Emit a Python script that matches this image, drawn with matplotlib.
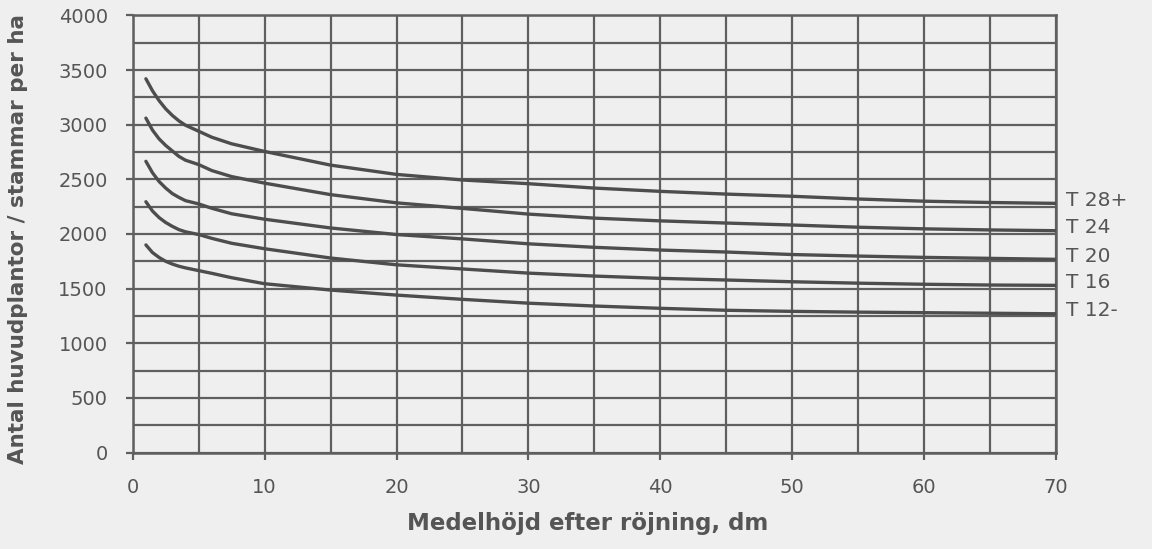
import numpy as np
import matplotlib.pyplot as plt
from matplotlib.ticker import MultipleLocator

# medelhöjd efter röjning, dm
hojd = [1, 1.5, 2, 2.5, 3, 3.5, 4, 5, 6, 7.5, 10, 15, 20, 25, 30, 35, 40, 45, 50, 55, 60, 65, 70]

# antal huvudplantor per ha för varje ståndortsindex
t28 = [3420, 3310, 3220, 3145, 3085, 3035, 2995, 2940, 2885, 2825, 2755, 2630, 2545, 2494, 2460,
       2420, 2390, 2365, 2345, 2320, 2300, 2288, 2280]
t24 = [3060, 2950, 2870, 2810, 2760, 2710, 2675, 2635, 2580, 2525, 2465, 2360, 2285, 2234, 2182,
       2145, 2120, 2100, 2082, 2062, 2047, 2037, 2030]
t20 = [2665, 2560, 2480, 2420, 2370, 2335, 2305, 2275, 2235, 2185, 2135, 2055, 1995, 1955, 1910,
       1878, 1853, 1835, 1812, 1798, 1786, 1777, 1768]
t16 = [2295, 2210, 2150, 2105, 2070, 2040, 2020, 1995, 1960, 1915, 1865, 1780, 1718, 1680, 1642,
       1615, 1594, 1579, 1563, 1550, 1540, 1533, 1530]
t12 = [1900, 1830, 1785, 1750, 1725, 1705, 1690, 1665, 1640, 1600, 1545, 1487, 1441, 1402, 1367,
       1341, 1320, 1302, 1292, 1285, 1280, 1275, 1270]

serier = [t28, t24, t20, t16, t12]
namn = ['T 28+', 'T 24', 'T 20', 'T 16', 'T 12-']

bg = '#efefef'
grid_c = '#5f5f5f'
line_c = '#4d4d4d'
text_c = '#555555'

fig = plt.figure(figsize=(11.52, 5.49), dpi=100, facecolor=bg)
ax = fig.add_axes([0.1152, 0.1756, 0.8015, 0.7964])
ax.set_facecolor(bg)

for y, n in zip(serier, namn):
    ax.plot(hojd, y, color=line_c, linewidth=2.4, solid_capstyle='round', zorder=3)
    ax.annotate(n, xy=(hojd[-1], y[-1]), xytext=(7, 2), textcoords='offset points',
                ha='left', va='center', fontsize=14.5, color=text_c, annotation_clip=False)

ax.set_xlim(0, 70)
ax.set_ylim(0, 4000)
ax.xaxis.set_major_locator(MultipleLocator(10))
ax.xaxis.set_minor_locator(MultipleLocator(5))
ax.yaxis.set_major_locator(MultipleLocator(500))
ax.yaxis.set_minor_locator(MultipleLocator(250))

ax.grid(True, which='both', color=grid_c, linewidth=1.6, zorder=1)
ax.set_axisbelow(True)
for s in ax.spines.values():
    s.set_color(grid_c)
    s.set_linewidth(1.8)

ax.tick_params(which='major', direction='out', length=5, width=1.6, color=grid_c,
               labelsize=14, labelcolor=text_c)
ax.tick_params(which='minor', length=0)
ax.tick_params(axis='x', pad=13)
ax.tick_params(axis='y', pad=13)

fig.text(0.51, 0.047, 'Medelhöjd efter röjning, dm', ha='center', va='center',
         fontsize=16.5, fontweight='bold', color=text_c)
fig.text(0.016, 0.565, 'Antal huvudplantor / stammar per ha', ha='center', va='center',
         rotation=90, fontsize=15.5, fontweight='bold', color=text_c)

fig.savefig('out.png', dpi=100, facecolor=bg)
